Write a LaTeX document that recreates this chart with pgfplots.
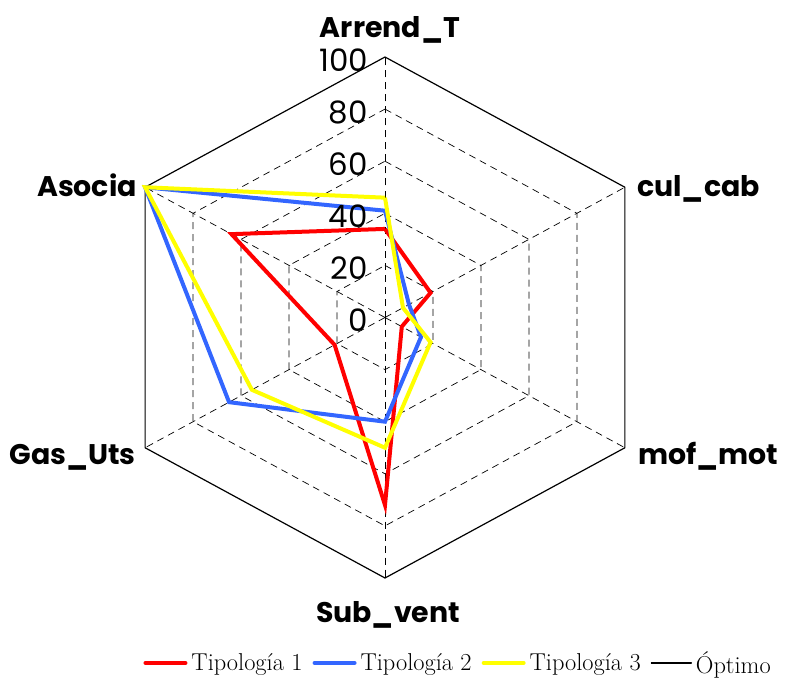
\documentclass[border=0pt]{standalone}
\usepackage{fontspec}
\usepackage{pgfplots}
\usepackage{pgfplotstable}
\pgfplotsset{compat=1.18}
\newfontfamily\gothic{Poppins}
\definecolor{tblue}{RGB}{51,102,255}
\definecolor{tyellow}{RGB}{255,255,0}
\definecolor{tred}{RGB}{255,0,0}

\pgfplotstableread{
ang   t1    t2    t3    opt
90    34    41    46    100
30    19    10    7.5   100
-30   7     15    19    100
-90   72    40    50    100
-150  21    65    55.5  100
150   64    100   100   100
90    34    41    46    100
}\radardata

\pgfplotstableread{
ang   g20  g40  g60  g80
90    20   40   60   80
30    20   40   60   80
-30   20   40   60   80
-90   20   40   60   80
-150  20   40   60   80
150   20   40   60   80
90    20   40   60   80
}\griddata

\begin{document}
\begin{tikzpicture}
\begin{axis}[
  at={(0,0)}, anchor=origin,
  x=2.77bp, y=2.605bp,
  xmin=-100, xmax=100, ymin=-100, ymax=100,
  axis lines=none,
  clip=false,
  legend columns=-1,
  legend image code/.code={\draw[#1,line cap=round] (0bp,0bp) -- (40bp,0bp);},
  legend style={at={(0.632,-0.163)}, anchor=center, draw=none, fill=none,
    font=\fontsize{24.5}{28}\selectfont,
    /tikz/every even column/.append style={column sep=8bp},
    /tikz/every odd column/.append style={column sep=2bp},
    inner sep=0pt},
]
% grid hexagons
\pgfplotsinvokeforeach{g20,g40,g60,g80}{
  \addplot[forget plot, black, line width=0.7bp, dash pattern=on 7bp off 5bp]
    table[x expr={\thisrow{#1}*cos(\thisrow{ang})}, y expr={\thisrow{#1}*sin(\thisrow{ang})}] {\griddata};
}
% spokes
\pgfplotsinvokeforeach{90,30,-30,-90,-150,150}{
  \addplot[forget plot, black, line width=0.7bp, dash pattern=on 7bp off 5bp]
    coordinates {(0,0) ({100*cos(#1)},{100*sin(#1)})};
}
% optimum
\addplot[forget plot, black, line width=1.2bp]
  table[x expr={\thisrow{opt}*cos(\thisrow{ang})}, y expr={\thisrow{opt}*sin(\thisrow{ang})}] {\radardata};
\addplot[tred, line width=4bp]
  table[x expr={\thisrow{t1}*cos(\thisrow{ang})}, y expr={\thisrow{t1}*sin(\thisrow{ang})}] {\radardata};
\addlegendentry{Tipología 1}
\addplot[tblue, line width=4bp]
  table[x expr={\thisrow{t2}*cos(\thisrow{ang})}, y expr={\thisrow{t2}*sin(\thisrow{ang})}] {\radardata};
\addlegendentry{Tipología 2}
\addplot[tyellow, line width=4bp]
  table[x expr={\thisrow{t3}*cos(\thisrow{ang})}, y expr={\thisrow{t3}*sin(\thisrow{ang})}] {\radardata};
\addlegendentry{Tipología 3}
\addlegendimage{black, line width=1.2bp}
\addlegendentry{Óptimo}
\end{axis}
% tick labels
\foreach \v in {0,20,40,60,80,100}{
  \pgfmathsetmacro{\yy}{2.605*\v-3}
  \node[anchor=east, inner sep=0pt, font=\gothic\fontsize{31}{34}\selectfont] at (-17bp,\yy bp) {\v};
}
% axis labels
\begin{scope}[every node/.style={inner sep=0pt, font=\gothic\bfseries\fontsize{28.5}{32}\selectfont}]
\node[anchor=base] at (5bp,279.5bp) {Arrend\_T};
\node[anchor=base west] at (252bp,120.5bp) {cul\_cab};
\node[anchor=base west] at (253bp,-146.5bp) {mof\_mot};
\node[anchor=base] at (3bp,-304.5bp) {Sub\_vent};
\node[anchor=base east] at (-249bp,-146.5bp) {Gas\_Uts};
\node[anchor=base east] at (-248bp,120.5bp) {Asocia};
\end{scope}
\pgfresetboundingbox
\path[use as bounding box] (-385bp,-368.5bp) rectangle (404bp,317.5bp);
\end{tikzpicture}
\end{document}
